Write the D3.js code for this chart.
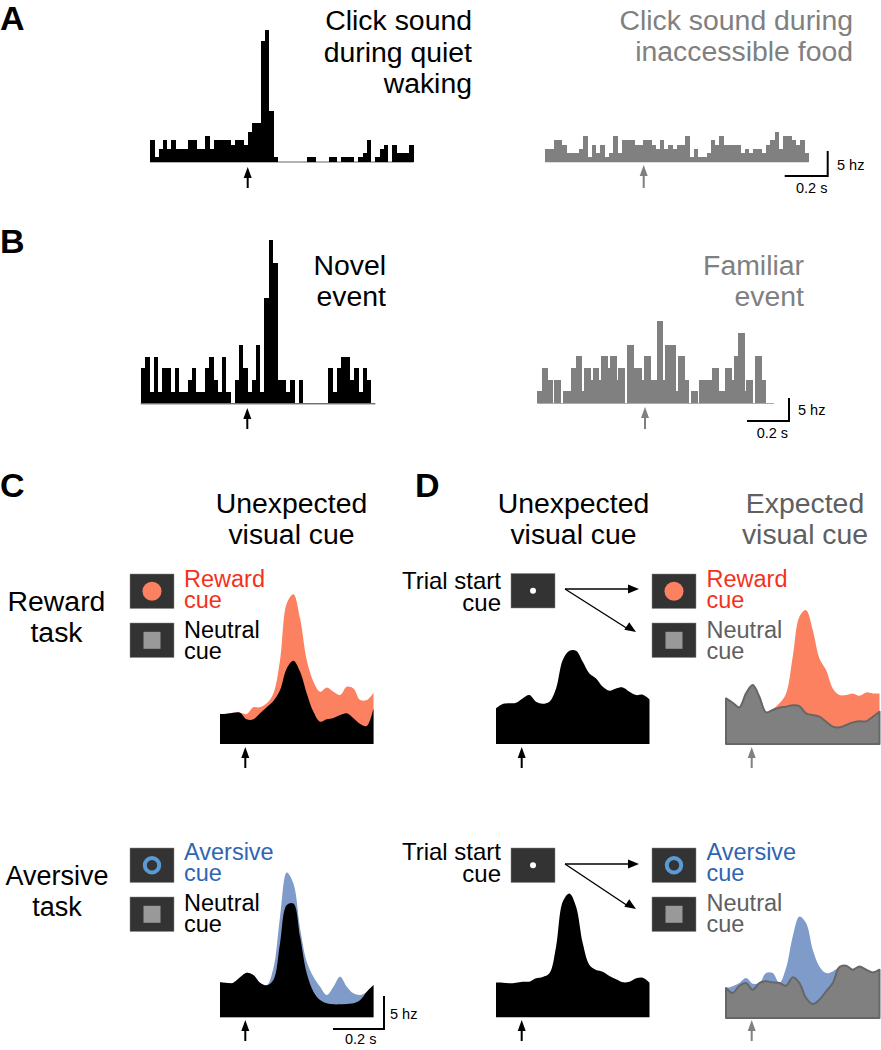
<!DOCTYPE html>
<html>
<head>
<meta charset="utf-8">
<script src="https://cdn.jsdelivr.net/npm/d3@7"></script>
<style>
  html, body { margin: 0; padding: 0; background: #fff; }
  svg { display: block; }
  text { font-family: "Liberation Sans", Arial, sans-serif; }
</style>
</head>
<body>
<div id="chart"></div>
<script>
// spike counts per 20 ms bin
const quietWaking = [5,1,3,5,3,5,3,3,3,5,5,3,3,6,3,5,5,5,5,4,5,5,4,7,9,9,28.5,31,12,1,0,0,0,0,0,0,0,1,1,0,0,0,1,1,0,1,1,1,0,1,2,5,0,1,3,4,0,4,2,2,2,4];
const inaccessibleFood = [3,3,5,5,4,2,2,2,3,6,1,4,2,4,1,2,6,2,5,5,5,4,4,5,5,4,3,5,3,4,3,4,4,6,1,3,1,1,2,5,4,6,4,4,4,4,2,3,2,3,3,2,4,5,7,3,6,6,5,4,5,2];
const novelEvent = [3,4,1,4,1,3,3,1,3,1,1,2,3,1,1,3,4,2,1,4,1,0,2,5,3,1,2,5,1,9,14,12,2,2,1,2,0,2,0,0,0,0,0,0,3,1,3,4,4,2,3,1,3,2,0];
// familiar event was read at half bin width
const familiarEvent = [1,1,3,3,3,2,2,0,2,2,2,0,1,1,1,1,3,3,4,4,4,1,3,3,3,2,3,3,3,2,4,4,4,3,4,4,4,2,3,3,3,0,5,5,5,3,3,3,3,2,4,4,4,2,2,2,7,7,7,2,5,5,5,5,5,1,4,4,4,2,2,0,1,1,1,0,2,2,2,2,2,2,3,3,3,1,1,1,3,3,3,2,4,4,6,6,6,1,2,2,2,0,4,4,4,2,2,0,0,0,0];

// smoothed firing rate in hz, 24 samples over 0.6 s
const rewardCueC = [4.5,4.55,4.7,4.7,4.5,5.5,5.5,6.1,7.6,12.6,21.1,22.5,18.85,12.6,9.35,7.85,8.5,7.85,7.35,8.6,8.35,6.6,6.6,7.7];
const neutralCueC = [4.5,4.55,4.7,4.7,3.7,3.7,4.6,5.5,6.45,8.1,11.35,12.5,10.85,7.6,4.85,3.35,3.7,3.9,4.35,4.6,3.85,3.0,2.7,5.35];
const unexpectedRewardD = [5.35,6.0,6.1,6.2,6.85,7.35,6.35,6.05,6.35,8.35,12.6,14.0,14.0,12.35,10.6,9.85,8.6,8.0,8.35,8.5,7.85,7.35,7.4,6.7];
const rewardCueD = [6.85,6.2,5.5,7.6,8.85,7.1,4.75,5.25,6.1,7.6,13.1,19.1,20.1,17.1,12.85,11.1,8.35,7.35,7.35,7.6,7.25,7.75,7.6,7.6];
const neutralCueD = [6.85,6.2,5.5,7.6,8.85,7.1,4.75,5.1,5.45,5.6,5.8,5.7,4.6,4.35,4.1,3.35,2.6,2.5,2.85,3.25,3.4,3.4,4.1,4.85];
const aversiveCueC = [5.25,5.15,5.2,6.0,6.7,6.35,5.2,4.8,7.35,15.1,21.75,20.1,13.35,8.35,6.1,4.6,3.35,4.6,6.1,4.6,3.6,3.35,3.85,4.85];
const neutralAversiveC = [5.25,5.15,5.2,6.0,6.7,6.35,5.2,4.8,5.6,11.1,16.85,17.1,12.1,6.6,3.85,2.6,2.1,1.95,1.95,2.0,2.1,2.6,3.85,4.85];
const unexpectedAversiveD = [5.2,5.2,5.1,5.2,5.35,5.35,5.85,6.05,6.6,10.6,17.35,18.6,16.6,11.1,7.85,7.1,6.85,6.2,5.7,5.25,5.35,5.85,5.95,5.2];
const aversiveCueD = [4.5,4.75,5.25,6.0,5.15,5.25,6.75,6.75,5.25,7.5,12.25,15.25,14.25,10.25,7.75,6.75,7.0,7.65,7.85,7.25,7.75,7.25,6.85,7.25];
const neutralAversiveD = [4.5,3.75,4.85,5.25,4.25,5.25,5.5,5.35,5.25,4.85,6.1,5.25,3.0,2.1,2.75,4.0,5.25,7.65,7.85,7.25,7.75,7.25,6.85,7.25];

const BLACK = '#000';
const GRAY = '#808080';
const ORANGE = '#fb8160';
const BLUE = '#7f9bc9';
const DARK_BOX = '#333';
const RED_TEXT = '#f4321c';
const BLUE_TEXT = '#2f66b2';
const GRAY_TEXT = '#606060';
const HEAD_GRAY = '#808080';

const svg = d3.select('#chart').append('svg').attr('width', 881).attr('height', 1050);

function label(lines, x, y, opts) {
  const o = Object.assign({ size: 28.4, lh: 31, anchor: 'start', fill: BLACK, weight: 'normal' }, opts);
  lines.forEach((t, i) => {
    svg.append('text')
      .attr('x', x)
      .attr('y', y + i * o.lh)
      .attr('text-anchor', o.anchor)
      .attr('font-size', o.size)
      .attr('font-weight', o.weight)
      .attr('fill', o.fill)
      .text(t);
  });
}

function stimArrow(x, y1, y2, color) {
  svg.append('line')
    .attr('x1', x).attr('x2', x)
    .attr('y1', y1 + 8).attr('y2', y2)
    .attr('stroke', color).attr('stroke-width', 2);
  svg.append('path')
    .attr('d', d3.line()([[x, y1], [x + 4, y1 + 11], [x - 4, y1 + 11]]) + 'Z')
    .attr('fill', color);
}

function histogram(values, opts) {
  const binWidth = opts.binWidth;
  const x = d3.scaleLinear().domain([0, values.length]).range([opts.x0, opts.x0 + values.length * binWidth]);
  const y = d3.scaleLinear().domain([0, 1]).range([opts.base, opts.base - opts.unit]);
  const g = svg.append('g');
  g.append('line')
    .attr('x1', x(0)).attr('x2', x(values.length))
    .attr('y1', opts.base + 0.5).attr('y2', opts.base + 0.5)
    .attr('stroke', opts.lineColor).attr('stroke-width', 1);
  g.selectAll('rect')
    .data(values)
    .join('rect')
    .attr('x', (d, i) => x(i))
    .attr('width', binWidth + 0.3)
    .attr('y', d => y(d))
    .attr('height', d => y(0) - y(d))
    .attr('shape-rendering', 'crispEdges')
    .attr('fill', opts.color);
}

function rateArea(values, opts) {
  const x = d3.scaleLinear().domain([0, 0.6]).range([opts.x0, opts.x0 + 153.5]);
  const y = d3.scaleLinear().domain([0, 5]).range([opts.base, opts.base - 33.3]);
  const times = values.map((d, i) => i * 0.6 / (values.length - 1));
  const area = d3.area()
    .x((d, i) => x(times[i]))
    .y0(y(0))
    .y1(d => y(d))
    .curve(d3.curveCatmullRom);
  const path = svg.append('path')
    .datum(values)
    .attr('d', area)
    .attr('fill', opts.color);
  if (opts.stroke) {
    path.attr('stroke', opts.stroke).attr('stroke-width', 2).attr('stroke-linejoin', 'round');
  }
}

function cueBox(x, y, kind, color) {
  svg.append('rect')
    .attr('x', x).attr('y', y).attr('width', 44).attr('height', 34.5)
    .attr('fill', DARK_BOX).attr('stroke', '#888').attr('stroke-width', 0.5);
  const cx = x + 22;
  const cy = y + 17.3;
  if (kind === 'disc') {
    svg.append('circle').attr('cx', cx).attr('cy', cy).attr('r', 9.5).attr('fill', color);
  } else if (kind === 'ring') {
    svg.append('circle').attr('cx', cx).attr('cy', cy).attr('r', 7.2)
      .attr('fill', 'none').attr('stroke', color).attr('stroke-width', 4);
  } else if (kind === 'dot') {
    svg.append('circle').attr('cx', cx).attr('cy', cy).attr('r', 3).attr('fill', '#fff');
  } else {
    svg.append('rect').attr('x', cx - 8.5).attr('y', cy - 8.5).attr('width', 17).attr('height', 17).attr('fill', '#999');
  }
}

function scaleBar(x, yTop, yBottom, len, hzX, hzY, secX, secY) {
  svg.append('path')
    .attr('d', d3.line()([[x - len, yBottom], [x, yBottom], [x, yTop]]))
    .attr('fill', 'none').attr('stroke', BLACK).attr('stroke-width', 2);
  label(['5 hz'], hzX, hzY, { size: 14.5 });
  label(['0.2 s'], secX, secY, { size: 14.5 });
}

function branchArrows(y0, y1, y2) {
  const head = (x, y, angle) => {
    svg.append('path')
      .attr('d', 'M0,0L-11,-4.5L-11,4.5Z')
      .attr('transform', `translate(${x},${y}) rotate(${angle})`)
      .attr('fill', BLACK);
  };
  svg.append('line').attr('x1', 565).attr('y1', y0).attr('x2', 632).attr('y2', y1).attr('stroke', BLACK).attr('stroke-width', 1.4);
  svg.append('line').attr('x1', 565).attr('y1', y0).attr('x2', 628).attr('y2', y2 - 3).attr('stroke', BLACK).attr('stroke-width', 1.4);
  head(639, y1, 0);
  head(636, y2, 33);
}

// panel letters
label(['A'], 0, 29.5, { size: 34, weight: 'bold' });
label(['B'], 0, 253, { size: 34, weight: 'bold' });
label(['C'], 0, 497, { size: 34, weight: 'bold' });
label(['D'], 415, 497, { size: 34, weight: 'bold' });

// panel A
histogram(quietWaking, { x0: 150, base: 161.5, binWidth: 4.25, unit: 4.23, color: BLACK, lineColor: '#666' });
histogram(inaccessibleFood, { x0: 545, base: 161.5, binWidth: 4.25, unit: 4.23, color: GRAY, lineColor: '#bbb' });
stimArrow(247.7, 167, 188, BLACK);
stimArrow(643.7, 165, 188, GRAY);
label(['Click sound', 'during quiet', 'waking'], 472, 30, { anchor: 'end', lh: 31.5 });
label(['Click sound during', 'inaccessible food'], 853, 30, { anchor: 'end', fill: HEAD_GRAY });
scaleBar(827.7, 151, 176, 43, 837, 170, 796, 192.7);

// panel B
histogram(novelEvent, { x0: 140.7, base: 403.3, binWidth: 4.267, unit: 11.67, color: BLACK, lineColor: '#333' });
histogram(familiarEvent, { x0: 537.3, base: 403, binWidth: 2.133, unit: 11.67, color: GRAY, lineColor: '#aaa' });
stimArrow(247.3, 408, 429, BLACK);
stimArrow(645, 407, 429, GRAY);
label(['Novel', 'event'], 386, 275, { anchor: 'end' });
label(['Familiar', 'event'], 804, 275, { anchor: 'end', fill: HEAD_GRAY });
scaleBar(789, 398, 421, 42, 798, 415, 756.7, 437.7);

// headers of C and D
label(['Unexpected', 'visual cue'], 291.5, 513, { anchor: 'middle' });
label(['Unexpected', 'visual cue'], 573.5, 513, { anchor: 'middle' });
label(['Expected', 'visual cue'], 805, 513, { anchor: 'middle', fill: GRAY_TEXT });
label(['Reward', 'task'], 56.5, 611, { anchor: 'middle' });
label(['Aversive', 'task'], 57, 885, { anchor: 'middle', size: 27 });

// reward row
cueBox(130, 574, 'disc', ORANGE);
cueBox(130, 623, 'square');
label(['Reward', 'cue'], 184, 587, { size: 23.5, lh: 21, fill: RED_TEXT });
label(['Neutral', 'cue'], 184, 638, { size: 23.5, lh: 21 });
rateArea(rewardCueC, { x0: 220, base: 744, color: ORANGE });
rateArea(neutralCueC, { x0: 220, base: 744, color: BLACK });
stimArrow(245.3, 747, 768, BLACK);

cueBox(511, 573.5, 'dot');
label(['Trial start', 'cue'], 501, 589, { size: 24, lh: 21.5, anchor: 'end' });
branchArrows(589, 589, 632);
rateArea(unexpectedRewardD, { x0: 496, base: 744, color: BLACK });
stimArrow(521.7, 747, 768, BLACK);

cueBox(652, 574, 'disc', ORANGE);
cueBox(652, 623, 'square');
label(['Reward', 'cue'], 706.5, 587, { size: 23.5, lh: 21, fill: RED_TEXT });
label(['Neutral', 'cue'], 706.5, 638, { size: 23.5, lh: 21, fill: GRAY_TEXT });
rateArea(rewardCueD, { x0: 726, base: 744, color: ORANGE });
rateArea(neutralCueD, { x0: 726, base: 744, color: GRAY, stroke: '#666' });
stimArrow(751.7, 747, 768, GRAY);

// aversive row
cueBox(130, 848, 'ring', '#5b9bd5');
cueBox(130, 897, 'square');
label(['Aversive', 'cue'], 184, 860, { size: 23.5, lh: 21, fill: BLUE_TEXT });
label(['Neutral', 'cue'], 184, 911, { size: 23.5, lh: 21 });
rateArea(aversiveCueC, { x0: 220, base: 1017.3, color: BLUE });
rateArea(neutralAversiveC, { x0: 220, base: 1017.3, color: BLACK });
stimArrow(245.3, 1020, 1041, BLACK);
scaleBar(384, 996, 1029, 51, 390, 1019, 345, 1044);

cueBox(511, 848, 'dot');
label(['Trial start', 'cue'], 501, 860, { size: 24, lh: 21.5, anchor: 'end' });
branchArrows(864, 864, 909);
rateArea(unexpectedAversiveD, { x0: 496, base: 1017.3, color: BLACK });
stimArrow(521.7, 1020, 1041, BLACK);

cueBox(652, 848, 'ring', '#5b9bd5');
cueBox(652, 897, 'square');
label(['Aversive', 'cue'], 706.5, 860, { size: 23.5, lh: 21, fill: BLUE_TEXT });
label(['Neutral', 'cue'], 706.5, 911, { size: 23.5, lh: 21, fill: GRAY_TEXT });
rateArea(aversiveCueD, { x0: 726, base: 1018, color: BLUE });
rateArea(neutralAversiveD, { x0: 726, base: 1018, color: GRAY, stroke: '#666' });
stimArrow(751.7, 1020, 1041, GRAY);
</script>
</body>
</html>
